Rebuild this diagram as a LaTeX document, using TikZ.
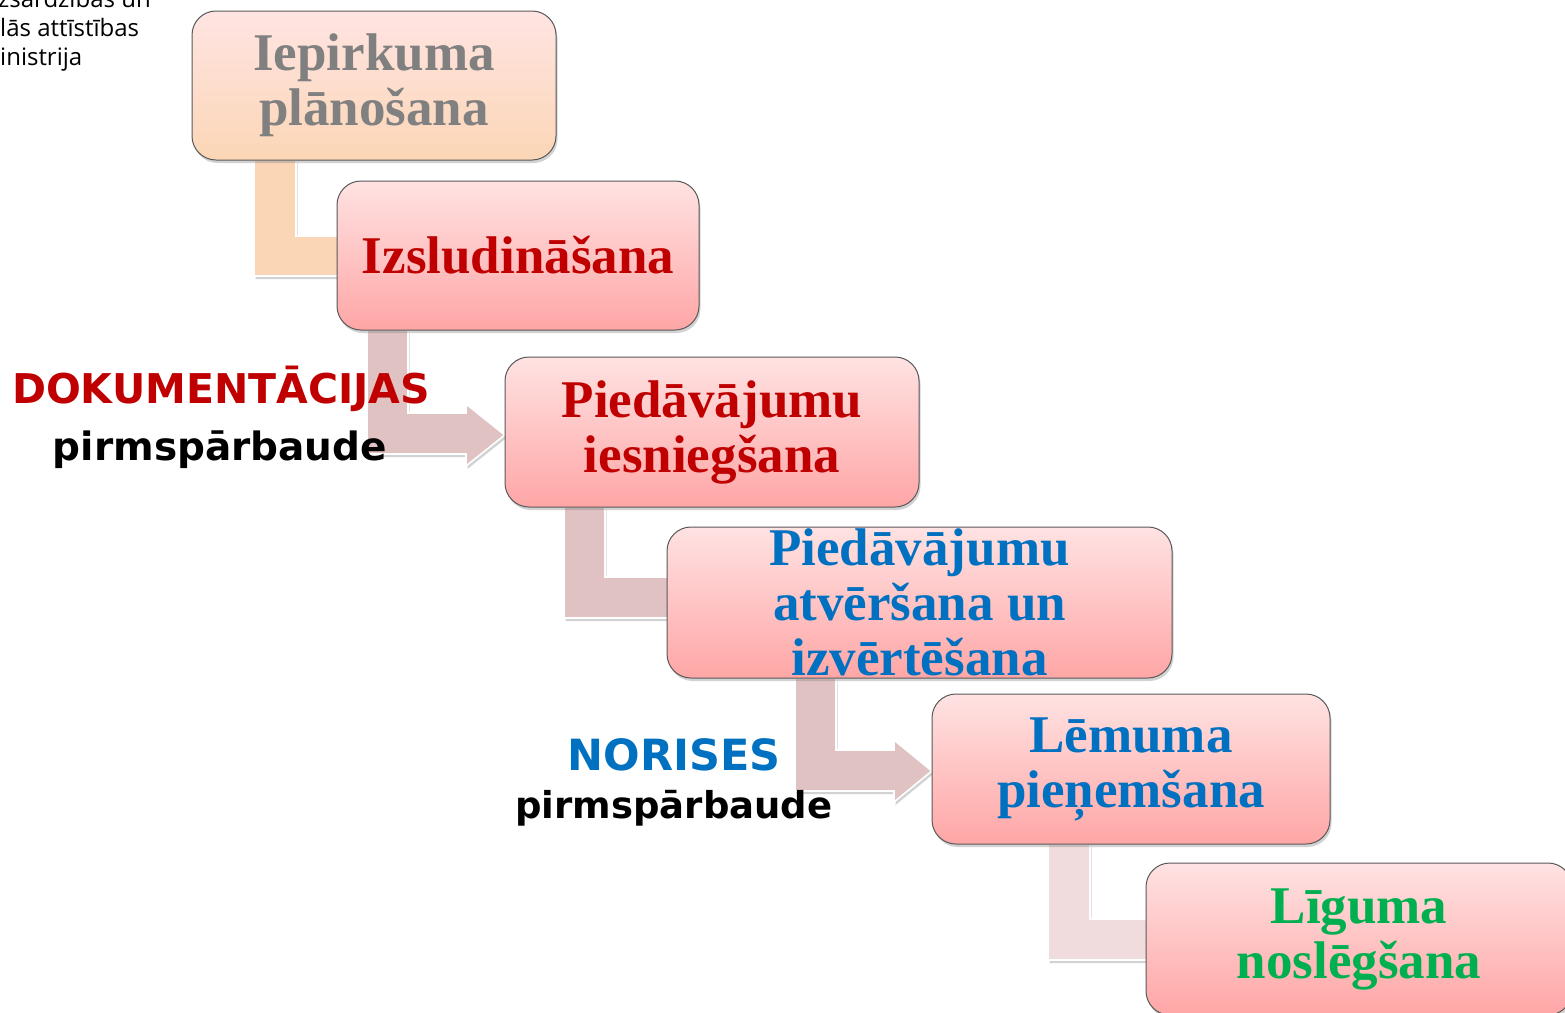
\documentclass[tikz,border=0pt]{standalone}
\usepackage{fontspec}
\setmainfont{Liberation Serif}
\newfontfamily\lblfont{DejaVu Sans}
\newfontfamily\logofont{Open Sans}
\usetikzlibrary{shadows}
\definecolor{peachT}{RGB}{255,228,226}
\definecolor{peachB}{RGB}{251,214,182}
\definecolor{pinkT}{RGB}{255,226,226}
\definecolor{pinkB}{RGB}{255,166,166}
\definecolor{connA}{RGB}{251,214,182}
\definecolor{connB}{RGB}{225,194,195}
\definecolor{connC}{RGB}{240,220,220}
\definecolor{txtgray}{RGB}{128,128,128}
\definecolor{dred}{RGB}{192,0,0}
\definecolor{mblue}{RGB}{0,112,192}
\definecolor{mgreen}{RGB}{0,176,80}
\begin{document}
\begin{tikzpicture}[x=1pt,y=-1pt,
  box/.style={draw=black!65, line width=1pt, rounded corners=24pt,
    top color=pinkT, bottom color=pinkB, align=center, inner sep=0pt,
    font=\fontsize{53}{55}\selectfont\bfseries,
    drop shadow={shadow xshift=1.5pt,shadow yshift=-3pt,opacity=0.35}},
  conn/.style={draw=white, line width=1.6pt,
    drop shadow={shadow xshift=1.5pt,shadow yshift=-3pt,opacity=0.35}},
  lbl/.style={anchor=base, inner sep=0pt},
  logo/.style={anchor=base west, inner sep=0pt, font=\logofont\fontsize{24}{29}\selectfont}
]
\useasboundingbox (0,0) rectangle (1565,1012);
\fill[white] (0,0) rectangle (1565,1012);
\clip (0,0) rectangle (1565,1012);

% logo text (cropped)
\node[logo] (g1) at (-2,7) {zsardzības un};
\node[logo] (g2) at (0,36) {lās attīstības};
\node[logo] (g3) at (0,65) {inistrija};

% box placeholders (so connectors can refer to them; drawn later on top)
\path (374,85.5) coordinate (p1) (518,255.5) coordinate (p2) (712,432) coordinate (p3)
      (919.5,602.5) coordinate (p4) (1131,769) coordinate (p5) (1359,939) coordinate (p6);
\path node[minimum width=364pt, minimum height=149pt, inner sep=0pt] (b1) at (p1) {}
      node[minimum width=362pt, minimum height=149pt, inner sep=0pt] (b2) at (p2) {}
      node[minimum width=414pt, minimum height=150pt, inner sep=0pt] (b3) at (p3) {}
      node[minimum width=505pt, minimum height=151pt, inner sep=0pt] (b4) at (p4) {}
      node[minimum width=398pt, minimum height=150pt, inner sep=0pt] (b5) at (p5) {}
      node[minimum width=426pt, minimum height=152pt, inner sep=0pt] (b6) at (p6) {};

% connectors
\fill[conn, fill=connA] (254,0 |- b1.south) -- (296,0 |- b1.south) -- (296,236)
  -- (b2.west |- 0,236) -- ++(6,0) -- ++(0,40) -- (254,276) -- cycle;
\fill[conn, fill=connB] (367,0 |- b2.south) -- (408,0 |- b2.south) -- (408,413)
  -- (466,413) -- (466,404) -- (b3.west |- 0,435) -- (466,466) -- (466,454)
  -- (367,454) -- cycle;
\fill[conn, fill=connB] (564,0 |- b3.south) -- (605,0 |- b3.south) -- (605,577)
  -- (b4.west |- 0,577) -- ++(6,0) -- ++(0,41) -- (564,618) -- cycle;
\fill[conn, fill=connB] (795,0 |- b4.south) -- (836,0 |- b4.south) -- (836,750)
  -- (894,750) -- (894,740) -- (b5.west |- 0,771) -- (894,802) -- (894,791)
  -- (795,791) -- cycle;
\fill[conn, fill=connC] (1048,0 |- b5.south) -- (1090,0 |- b5.south) -- (1090,919)
  -- (b6.west |- 0,919) -- ++(6,0) -- ++(0,41) -- (1048,960) -- cycle;

% visible boxes
\node[box, top color=peachT, bottom color=peachB, text=txtgray,
  minimum width=364pt, minimum height=149pt] (n1) at (b1) {Iepirkuma\\plānošana};
\node[box, text=dred, minimum width=362pt, minimum height=149pt] (n2) at (b2) {Izsludināšana};
\node[box, text=dred, minimum width=414pt, minimum height=150pt] (n3) at (b3) {Piedāvājumu\\iesniegšana};
\node[box, text=mblue, minimum width=505pt, minimum height=151pt] (n4) at (b4) {Piedāvājumu\\atvēršana un\\izvērtēšana};
\node[box, text=mblue, minimum width=398pt, minimum height=150pt] (n5) at (b5) {Lēmuma\\pieņemšana};
\node[box, text=mgreen, minimum width=426pt, minimum height=152pt] (n6) at (b6) {Līguma\\noslēgšana};

% labels
\node[lbl, text=dred, font=\lblfont\bfseries\fontsize{41}{41}\selectfont] (d1) at (221,403) {DOKUMENTĀCIJAS};
\node[lbl, font=\lblfont\bfseries\fontsize{39}{39}\selectfont] (d2) at (220,460) {pirmspārbaude};
\node[lbl, text=mblue, font=\lblfont\bfseries\fontsize{43}{43}\selectfont] (r1) at (674,770) {NORISES};
\node[lbl, font=\lblfont\bfseries\fontsize{37}{37}\selectfont] (r2) at (674,818) {pirmspārbaude};
\end{tikzpicture}
\end{document}
